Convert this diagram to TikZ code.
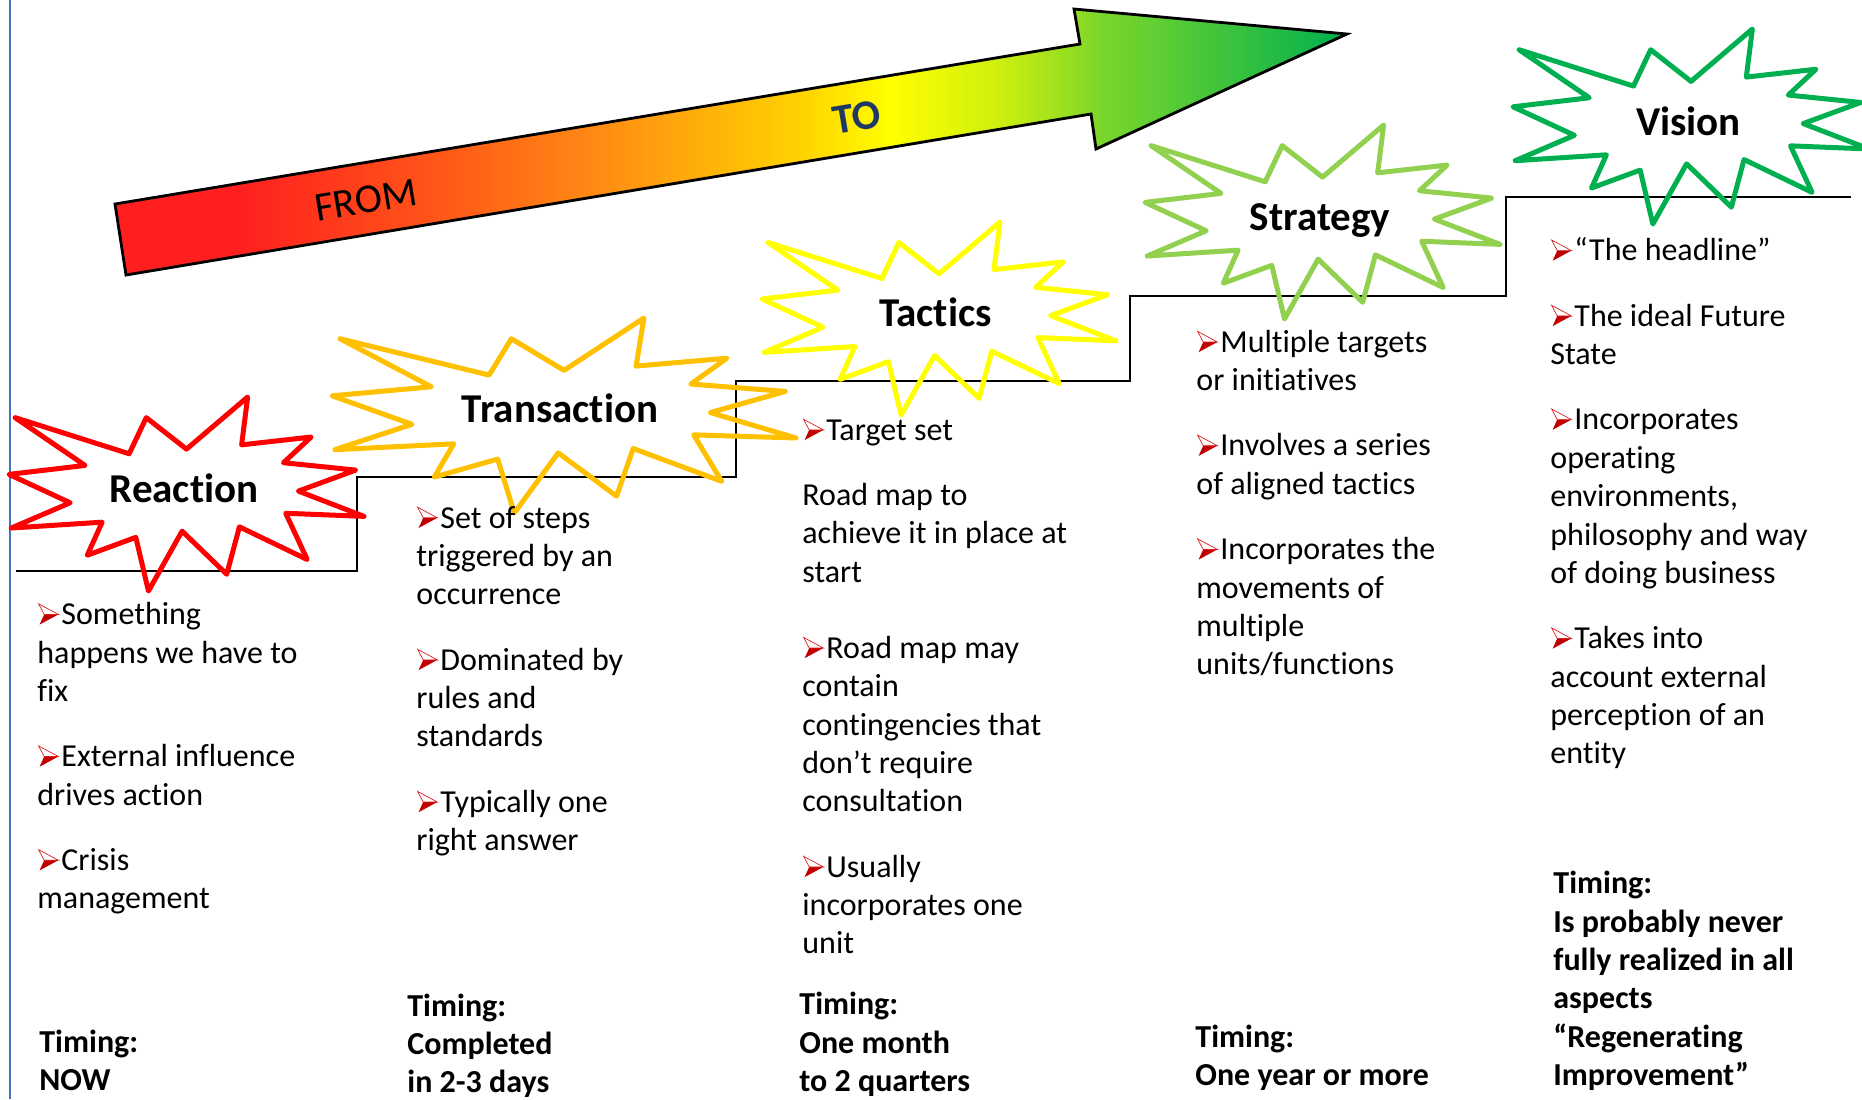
\documentclass[tikz,border=0pt]{standalone}
\usepackage{fontspec}
\setmainfont[Ligatures=NoCommon]{Carlito}
\usepackage{tikz}

\definecolor{burstred}{HTML}{FF0000}
\definecolor{burstorange}{HTML}{FFC000}
\definecolor{burstyellow}{HTML}{FFFF00}
\definecolor{burstlime}{HTML}{92D050}
\definecolor{burstgreen}{HTML}{00B050}
\definecolor{tonavy}{HTML}{1F3864}
\definecolor{bulred}{HTML}{C00000}
\definecolor{bulline}{HTML}{E02020}
\definecolor{edgeblue}{HTML}{4472C4}
\definecolor{arrA}{HTML}{FF1F1F}
\definecolor{arrB}{HTML}{FF5A18}
\definecolor{arrC}{HTML}{FF8C14}
\definecolor{arrD}{HTML}{FFD200}
\definecolor{arrE}{HTML}{FFFF00}
\definecolor{arrF}{HTML}{CDEF0E}
\definecolor{arrG}{HTML}{7CD62A}
\definecolor{arrH}{HTML}{00B050}

\pgfdeclarehorizontalshading{fromto}{100bp}{color(0bp)=(arrA); color(30bp)=(arrA); color(38.6bp)=(arrB); color(44.7bp)=(arrC); color(52.8bp)=(arrD); color(56.5bp)=(arrE); color(60.9bp)=(arrF); color(65bp)=(arrG); color(75bp)=(arrH); color(100bp)=(arrH)}

% arrowhead bullet
\newcommand{\bul}{\tikz[baseline=0pt, x=1pt, y=1pt]{%
  \useasboundingbox (0,0) rectangle (12,10.5);
  \fill[bulred] (3.4,5.1) -- (10.5,5.1) -- (1.1,0) -- cycle;
  \draw[bulline, line width=0.35pt, line join=miter] (0.6,10.4) -- (10.5,5.1) -- (3.4,5.1) -- cycle;}}
% explosion outline, fitted into the box at (#2,#3) of size #4 x #5
\newcommand{\burst}[5]{\draw[burst, draw=#1, shift={(#2,#3)}, xscale=#4/216, yscale=#5/216]
  (108,58) -- (145.22,0) -- (141.55,53.25) -- (183.80,44.57) -- (167.02,73.15) -- (210.97,81.37)
  -- (176.07,104.75) -- (216,132.90) -- (168.37,129.42) -- (181.45,180.95) -- (140.20,144.57)
  -- (132.47,197.37) -- (105.32,149.35) -- (84.85,216) -- (77.15,156.27) -- (47.62,176.17)
  -- (56.67,139.37) -- (1.35,145.87) -- (37.22,117.75) -- (0,86.15) -- (46.27,76.17)
  -- (3.70,22.95) -- (73.12,63.20) -- (83.52,22.95) -- cycle;}

\tikzset{
  txt/.style={anchor=base west, align=left, inner sep=0pt, font=\fontsize{16}{19.2}\selectfont},
  timing/.style={txt, font=\fontsize{16}{19.2}\selectfont\bfseries},
  title/.style={anchor=base, inner sep=0pt, font=\fontsize{20.5}{24}\selectfont\bfseries},
  burst/.style={line width=2.5pt, line join=round},
}

\begin{document}
\begin{tikzpicture}[x=0.5pt, y=-0.5pt]
\path[use as bounding box, fill=white] (0,0) rectangle (1862,1099);

\draw[edgeblue, line width=1pt] (10,0) -- (10,1099);

% stairs
\draw[line width=1pt] (16,571) -| (357,477) -| (736,381) -| (1130,296) -| (1506,197) -- (1851,197);

% from -> to arrow
\shadedraw[shading=fromto, line width=1.4pt] (115,204) -- (1080,44) -- (1074,9) -- (1347,34)
  -- (1096,149) -- (1091,114) -- (126,275) -- cycle;
\node[font=\fontsize{20.5}{24}\selectfont, rotate=9.4] (from) at (366,200) {FROM};
\node[font=\fontsize{21}{24}\selectfont\bfseries, text=tonavy, rotate=9.4] (to) at (857,117) {TO};

% explosions
\burst{burstred}{9}{397}{355}{194}
\burst{burstorange}{332}{318}{464}{195}
\burst{burstyellow}{762}{222}{354}{193}
\burst{burstlime}{1145}{125}{355}{194}
\burst{burstgreen}{1513}{29}{356}{195}

\node[title] (reaction) at (184,502) {Reaction};
\node[title] (transaction) at (560,422) {Transaction};
\node[title] (tactics) at (935.5,326.7) {Tactics};
\node[title] (strategy) at (1320,230) {Strategy};
\node[title] (vision) at (1688.5,135) {Vision};

% columns (placed by the baseline of their last line)
\node[txt] (reaction-text) at (37,908.8) {\bul Something\\ happens we have to\\ fix\\[13.45pt]
  \bul External influence\\ drives action\\[13.45pt]
  \bul Crisis\\ management};
\node[txt] (transaction-text) at (416,850.6) {\bul Set of steps\\ triggered by an\\ occurrence\\[13.45pt]
  \bul Dominated by\\ rules and\\ standards\\[13.45pt]
  \bul Typically one\\ right answer};
\node[txt] (tactics-text) at (802,953.9) {\bul Target set\\[13.45pt]
  Road map to\\ achieve it in place at\\ start\\[18.8pt]
  \bul Road map may\\ contain\\ contingencies that\\ don’t require\\ consultation\\[13.45pt]
  \bul Usually\\ incorporates one\\ unit};
\node[txt] (strategy-text) at (1196,674.8) {\bul Multiple targets\\ or initiatives\\[13.45pt]
  \bul Involves a series\\ of aligned tactics\\[13.45pt]
  \bul Incorporates the\\ movements of\\ multiple\\ units/functions};
\node[txt] (vision-text) at (1550,763.9) {\bul “The headline”\\[13.45pt]
  \bul The ideal Future\\ State\\[13.45pt]
  \bul Incorporates\\ operating\\ environments,\\ philosophy and way\\ of doing business\\[13.45pt]
  \bul Takes into\\ account external\\ perception of an\\ entity};

% timings
\node[timing] (reaction-time) at (39,1090.4) {Timing:\\ NOW};
\node[timing] (transaction-time) at (407,1092.8) {Timing:\\ Completed\\ in 2-3 days};
\node[timing] (tactics-time) at (799,1091.6) {Timing:\\ One month\\ to 2 quarters};
\node[timing] (strategy-time) at (1195,1085.7) {Timing:\\ One year or more};
\node[timing] (vision-time) at (1553,1085.7) {Timing:\\ Is probably never\\ fully realized in all\\ aspects\\ “Regenerating\\ Improvement”};
\end{tikzpicture}
\end{document}
